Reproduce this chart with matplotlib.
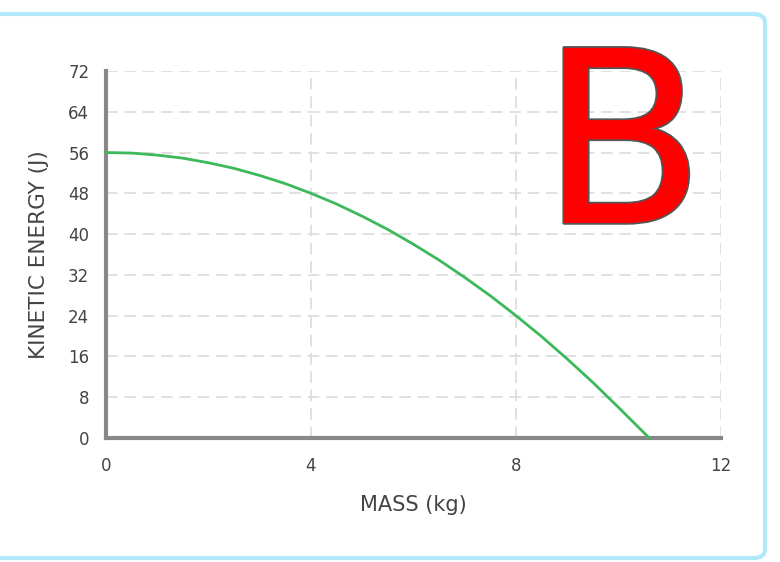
import matplotlib
matplotlib.use("Agg")
import matplotlib.pyplot as plt
from matplotlib.patches import FancyBboxPatch
import matplotlib.patheffects as pe

mass = [0, 0.5, 1, 1.5, 2, 2.5, 3, 3.5, 4, 4.5, 5, 5.5, 6, 6.5, 7, 7.5,
        8, 8.5, 9, 9.5, 10, 10.3, 10.6]
energy = [56, 55.9, 55.5, 54.9, 54, 52.9, 51.5, 49.9, 48, 45.9, 43.5, 40.9,
          38, 34.9, 31.5, 27.9, 24, 19.9, 15.5, 10.9, 6, 3, 0]
x_ticks = [0, 4, 8, 12]
y_ticks = [0, 8, 16, 24, 32, 40, 48, 56, 64, 72]

W, H = 780, 562
fig = plt.figure(figsize=(W / 100, H / 100), dpi=100)
fig.patch.set_facecolor("white")

# outer rounded border
border = FancyBboxPatch((-20 / W, 4 / H), (765 + 20) / W, (558 - 14) / H,
                        boxstyle="round,pad=0,rounding_size=0.015",
                        transform=fig.transFigure, fill=False,
                        edgecolor="#b3e8f8", linewidth=3, zorder=0)
fig.patches.append(border)

ax = fig.add_axes([106 / W, (H - 438) / H, (721 - 106) / W, (438 - 71) / H])
ax.set_xlim(0, 12)
ax.set_ylim(0, 72)
ax.set_xticks(x_ticks)
ax.set_yticks(y_ticks)
ax.grid(True, color="#dcdcdc", linestyle=(0, (7, 4)), linewidth=1.2)
ax.set_axisbelow(True)
for s in ["top", "right"]:
    ax.spines[s].set_visible(False)
for s in ["left", "bottom"]:
    ax.spines[s].set_color("#888888")
    ax.spines[s].set_linewidth(3)
ax.tick_params(length=0, labelsize=12, labelcolor="#444444")
ax.tick_params(axis="y", pad=12)
ax.tick_params(axis="x", pad=14)

ax.plot(mass, energy, color="#3cb95a", linewidth=2, clip_on=False, zorder=3)

ax.set_xlabel("MASS (kg)", fontsize=15, color="#444444", labelpad=14)
ax.set_ylabel("KINETIC ENERGY (J)", fontsize=15.5, color="#444444", labelpad=14)

fig.text(623 / W, (H - 223) / H, "B", fontsize=173, color="#ff0000",
         ha="center", va="baseline",
         path_effects=[pe.withStroke(linewidth=2.5, foreground="#555555")],
         zorder=5)

fig.savefig("out.png", dpi=100)
